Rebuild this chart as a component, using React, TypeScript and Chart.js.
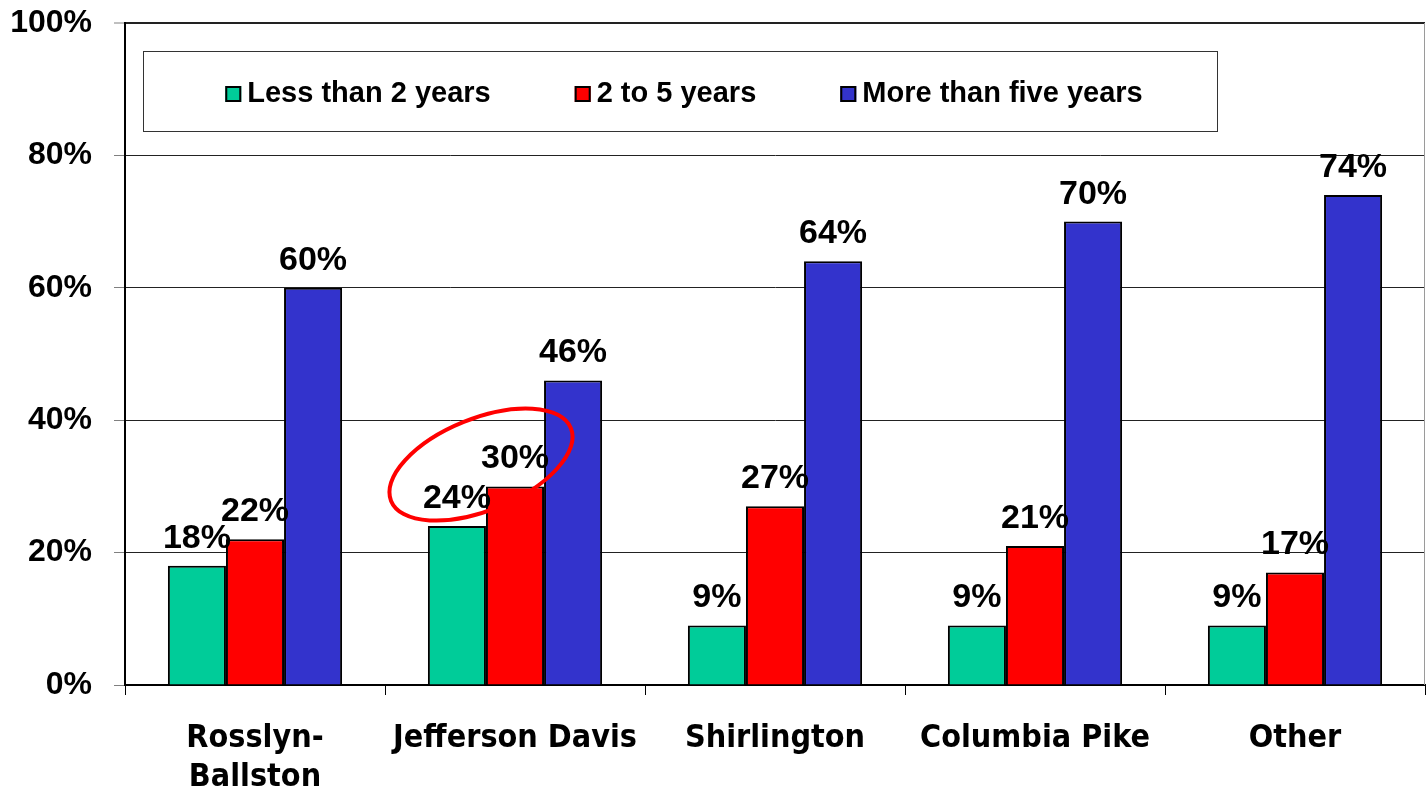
import React, { useEffect, useRef } from "react";
import { Chart, registerables } from "chart.js";

Chart.register(...registerables);

const categories: (string | string[])[] = [["Rosslyn-", "Ballston"], "Jefferson Davis", "Shirlington", "Columbia Pike", "Other"];
const seriesNames = ["Less than 2 years", "2 to 5 years", "More than five years"];
const lessThan2 = [18, 24, 9, 9, 9];
const twoTo5 = [22, 30, 27, 21, 17];
const moreThan5 = [60, 46, 64, 70, 74];
const seriesColors = ["#00CC99", "#FF0000", "#3333CC"];
const yMin = 0;
const yMax = 100;
const yStep = 20;

const ARIAL = "'Liberation Sans', Arial, sans-serif";
const TAHOMA = "'DejaVu Sans Condensed', 'DejaVu Sans', sans-serif";

const dataLabelPlugin = {
  id: "dataLabels",
  afterDatasetsDraw(chart: any) {
    const ctx = chart.ctx;
    ctx.save();
    ctx.font = `bold 34px ${ARIAL}`;
    ctx.fillStyle = "#000";
    ctx.textAlign = "center";
    ctx.textBaseline = "alphabetic";
    chart.data.datasets.forEach((ds: any, di: number) => {
      const meta = chart.getDatasetMeta(di);
      meta.data.forEach((el: any, i: number) => {
        ctx.fillText(`${ds.data[i]}%`, el.x, el.y - 18);
      });
    });
    ctx.restore();
  },
};

const framePlugin = {
  id: "frameAndLegend",
  afterDraw(chart: any) {
    const ctx = chart.ctx;
    const area = chart.chartArea;
    ctx.save();
    // right border
    ctx.strokeStyle = "#9a9a9a";
    ctx.lineWidth = 1;
    ctx.beginPath();
    ctx.moveTo(area.right - 0.5, area.top);
    ctx.lineTo(area.right - 0.5, area.bottom);
    ctx.stroke();

    // legend box
    const bx = area.left + 18;
    const by = area.top + 28;
    const bw = 1074;
    const bh = 80;
    ctx.fillStyle = "#fff";
    ctx.fillRect(bx, by, bw, bh);
    ctx.strokeStyle = "#333";
    ctx.lineWidth = 1;
    ctx.strokeRect(bx + 0.5, by + 0.5, bw, bh);

    ctx.font = `bold 29px ${ARIAL}`;
    ctx.textBaseline = "middle";
    ctx.textAlign = "left";
    const sw = 16;
    const gapText = 6;
    const gapItem = 84;
    const items = chart.data.datasets.map((d: any) => ({
      label: d.label,
      color: d.backgroundColor,
      w: sw + gapText + ctx.measureText(d.label).width,
    }));
    const total = items.reduce((s: number, it: any) => s + it.w, 0) + gapItem * (items.length - 1);
    let x = bx + bw / 2 - total / 2 + 4;
    const cy = by + bh / 2 + 3;
    items.forEach((it: any) => {
      ctx.fillStyle = it.color;
      ctx.fillRect(x, cy - sw / 2, sw, sw);
      ctx.strokeStyle = "#000";
      ctx.lineWidth = 2;
      ctx.strokeRect(x + 1, cy - sw / 2 + 1, sw - 2, sw - 2);
      ctx.fillStyle = "#000";
      ctx.fillText(it.label, x + sw + gapText, cy);
      x += it.w + gapItem;
    });

    // red ellipse annotation around Jefferson Davis short-tenure labels
    const xs = chart.scales.x;
    const ys = chart.scales.y;
    const ex = xs.getPixelForValue(1) - 34;
    const ey = ys.getPixelForValue(33.3);
    ctx.strokeStyle = "#FF0000";
    ctx.lineWidth = 4;
    ctx.beginPath();
    ctx.ellipse(ex, ey, 97, 46, (-22 * Math.PI) / 180, 0, Math.PI * 2);
    ctx.stroke();
    ctx.restore();
  },
};

export default function App() {
  const ref = useRef<HTMLCanvasElement | null>(null);

  useEffect(() => {
    document.body.style.margin = "0";
    const canvas = ref.current;
    if (!canvas) return;
    const series = [lessThan2, twoTo5, moreThan5];
    const chart = new Chart(canvas, {
      type: "bar",
      data: {
        labels: categories,
        datasets: series.map((d, i) => ({
          label: seriesNames[i],
          data: d,
          backgroundColor: seriesColors[i],
          borderColor: "#000",
          borderWidth: 2,
          categoryPercentage: 0.67,
          barPercentage: 1.0,
        })),
      },
      options: {
        responsive: false,
        animation: false,
        devicePixelRatio: 1,
        layout: { padding: { top: 23, right: 1, left: 0, bottom: 0 } },
        plugins: {
          legend: { display: false },
          tooltip: { enabled: false },
        },
        scales: {
          x: {
            afterFit(scale: any) {
              scale.height = 107;
              scale.paddingLeft = 0;
              scale.paddingRight = 0;
            },
            border: { display: true, color: "#000", width: 2 },
            grid: {
              display: true,
              drawOnChartArea: false,
              drawTicks: true,
              tickLength: 10,
              tickColor: "#000",
              offset: true,
            },
            ticks: {
              color: "#000",
              font: { family: TAHOMA, weight: "bold", size: 32, lineHeight: 1.22 },
              padding: 24,
              maxRotation: 0,
              autoSkip: false,
            },
          },
          y: {
            min: yMin,
            max: yMax,
            afterFit(scale: any) {
              scale.width = 125;
              scale.paddingTop = 0;
              scale.paddingBottom = 0;
            },
            border: { display: true, color: "#000", width: 2 },
            grid: {
              color: "#222",
              lineWidth: (c: any) => (c.tick && c.tick.value === yMax ? 2 : 1),
              drawTicks: true,
              tickLength: 11,
              tickColor: "#808080",
              tickWidth: 1,
            },
            ticks: {
              stepSize: yStep,
              color: "#000",
              font: { family: ARIAL, weight: "bold", size: 32 },
              padding: 22,
              callback: (v: any) => `${v}%`,
            },
          },
        },
      },
      plugins: [dataLabelPlugin, framePlugin],
    } as any);
    return () => chart.destroy();
  }, []);

  return (
    <div style={{ width: 1426, height: 792, position: "relative", background: "#fff" }}>
      <canvas ref={ref} width={1426} height={792} style={{ display: "block" }} />
    </div>
  );
}
